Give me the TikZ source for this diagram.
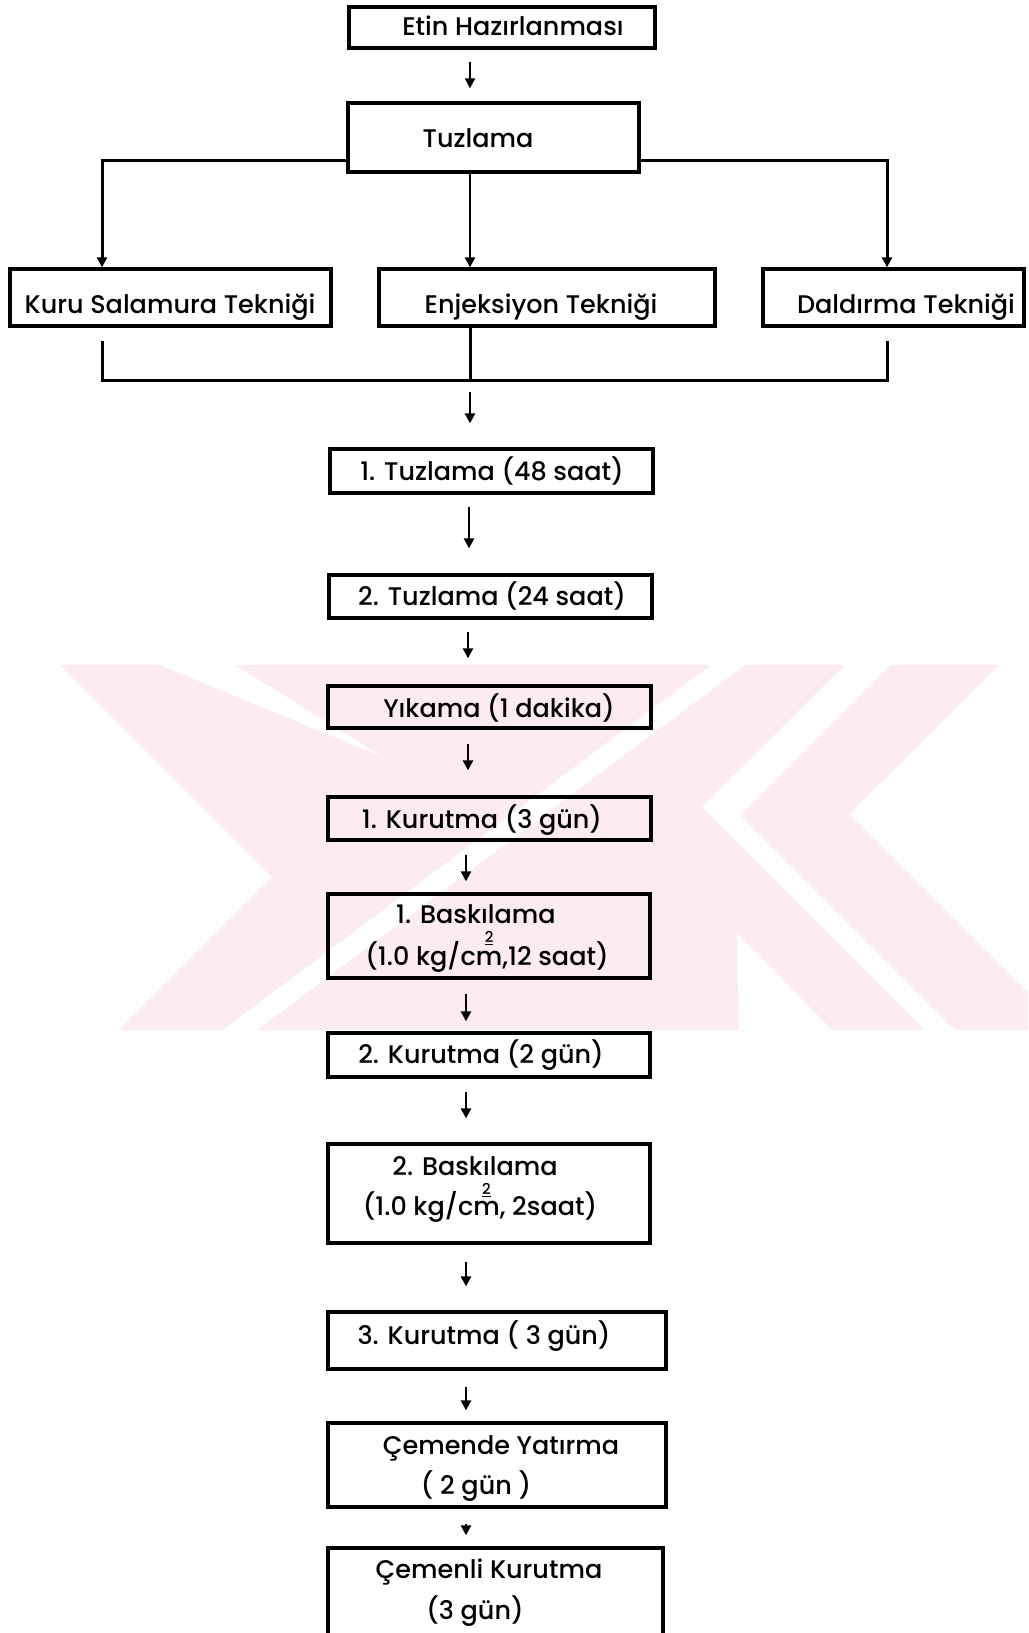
\documentclass[tikz,border=0pt]{standalone}
\usepackage{fontspec}
\setmainfont{Poppins}[UprightFont={* Medium}]
\usepackage{calc}
\usetikzlibrary{arrows.meta}
\definecolor{wmpink}{RGB}{253,236,239}
% "cm" with a small underlined 2 set above the m
\newcommand{\cmsq}[1]{c\makebox[0pt][l]{\makebox[\widthof{m}][c]{\raisebox{#1}{\fontsize{15}{15}\selectfont\underline{2}}}}m}

\begin{document}
\begin{tikzpicture}[x=1pt,y=-1pt,
  box/.style={draw, line width=3.3pt, inner sep=0pt},
  lbl/.style={anchor=base, inner sep=0pt, font=\fontsize{25.5}{30}\selectfont},
  conn/.style={line width=3pt},
  tip/.style={-{Triangle[length=10pt,width=10pt]}},
  arr/.style={line width=2.5pt, tip},
]
\fill[white] (0,0) rectangle (1028,1633);
\useasboundingbox (0,0) rectangle (1028,1633);

% background emblem
\begin{scope}
  \clip (0,665) rectangle (1028,1030);
  \fill[wmpink] (60,665) -- (272,877) -- (119,1030) -- (1028,1030) -- (1028,993)
    -- (849,814) -- (999,665) -- cycle;
  \fill[white] (160,665) -- (235,665) -- (383,757) -- cycle;
  \fill[white] (711,665) -- (745,665) -- (257,1030) -- (223,1030) -- cycle;
  \fill[white] (845,665) -- (891,665) -- (740,815) -- (955,1030) -- (925,1030)
    -- (702,807) -- cycle;
  \fill[white] (737,933) -- (739,1030) -- (832,1030) -- cycle;
\end{scope}

% boxes
\node[box, minimum width=306pt, minimum height=41pt] (etin) at (502,27.5) {};
\node[box, minimum width=291pt, minimum height=69pt] (tuz) at (493.5,137.5) {};
\node[box, minimum width=321pt, minimum height=57pt] (kuru) at (170.5,297.5) {};
\node[box, minimum width=336pt, minimum height=57pt] (enj) at (547,297.5) {};
\node[box, minimum width=261pt, minimum height=57pt] (dal) at (893.5,297.5) {};
\node[box, minimum width=323pt, minimum height=44pt] (t1) at (491.5,471) {};
\node[box, minimum width=323pt, minimum height=43pt] (t2) at (490.5,596.5) {};
\node[box, minimum width=323pt, minimum height=42pt] (yik) at (489.5,707) {};
\node[box, minimum width=323pt, minimum height=43pt] (k1) at (489.5,818.5) {};
\node[box, minimum width=322pt, minimum height=84pt] (b1) at (489,936) {};
\node[box, minimum width=322pt, minimum height=44pt] (k2) at (489,1055) {};
\node[box, minimum width=322pt, minimum height=99pt] (b2) at (489,1193.5) {};
\node[box, minimum width=338pt, minimum height=57pt] (k3) at (497,1340.5) {};
\node[box, minimum width=338pt, minimum height=84pt] (cy) at (497,1465) {};
\node[box, minimum width=335pt, minimum height=92pt] (ck) at (495.5,1594) {};

% texts
\node[lbl] (etin-l) at (513,35) {Etin Hazırlanması};
\node[lbl] (tuz-l) at (478,147) {Tuzlama};
\node[lbl] (kuru-l) at (170,313) {Kuru Salamura Tekniği};
\node[lbl] (enj-l) at (541,313) {Enjeksiyon Tekniği};
\node[lbl] (dal-l) at (906,313) {Daldırma Tekniği};
\node[lbl] (t1-l) at (492,480) {1. Tuzlama (48 saat)};
\node[lbl] (t2-l) at (492,605) {2. Tuzlama (24 saat)};
\node[lbl] (yik-l) at (499,717) {Yıkama (1 dakika)};
\node[lbl] (k1-l) at (482,828) {1. Kurutma (3 gün)};
\node[lbl] (b1-a) at (476,923) {1. Baskılama};
\node[lbl] (b1-b) at (487,965) {(1.0 kg/\cmsq{0.88em},12 saat)};
\node[lbl] (k2-l) at (481,1063) {2. Kurutma (2 gün)};
\node[lbl] (b2-a) at (475,1175) {2. Baskılama};
\node[lbl] (b2-b) at (480,1215) {(1.0 kg/\cmsq{0.8em}, 2saat)};
\node[lbl] (k3-l) at (484,1344) {3. Kurutma ( 3 gün)};
\node[lbl] (cy-a) at (501,1454) {Çemende Yatırma};
\node[lbl] (cy-b) at (476,1494) {( 2 gün )};
\node[lbl] (ck-a) at (489,1578) {Çemenli Kurutma};
\node[lbl] (ck-b) at (475,1619) {(3 gün)};

% guide positions for the connectors
\coordinate (sA) at (470,0);
\coordinate (sB) at (469,0);
\coordinate (sC) at (468,0);
\coordinate (sD) at (466,0);
\coordinate (lx) at (102,0);
\coordinate (rx) at (887,0);
\coordinate (brY) at (0,160);
\coordinate (mgY) at (0,380);

% connectors
\draw[arr, line width=2pt, shorten <=12pt, shorten >=13pt] (etin.south -| sA) -- (tuz.north -| sA);
\draw[conn, tip] (tuz.west |- brY) -| (kuru.north -| lx);
\draw[conn, tip] (tuz.east |- brY) -| (dal.north -| rx);
\draw[arr] (tuz.south -| sA) -- (enj.north -| sA);
\draw[conn, shorten <=13pt, shorten >=13pt] (kuru.south -| lx) -- (lx |- mgY) -- (rx |- mgY) -- (dal.south -| rx);
\draw[conn] (enj.south -| sA) -- (sA |- mgY);
\draw[arr, shorten <=12pt, shorten >=24pt] (sA |- mgY) -- (t1.north -| sA);
\draw[arr, shorten <=12pt, shorten >=25pt] (t1.south -| sB) -- (t2.north -| sB);
\draw[arr, shorten <=12pt, shorten >=26pt] (t2.south -| sC) -- (yik.north -| sC);
\draw[arr, shorten <=14pt, shorten >=25pt] (yik.south -| sC) -- (k1.north -| sC);
\draw[arr, shorten <=13pt, shorten >=11pt] (k1.south -| sD) -- (b1.north -| sD);
\draw[arr, shorten <=14pt, shorten >=10pt] (b1.south -| sD) -- (k2.north -| sD);
\draw[arr, shorten <=13pt, shorten >=24pt] (k2.south -| sD) -- (b2.north -| sD);
\draw[arr, shorten <=17pt, shorten >=24pt] (b2.south -| sD) -- (k3.north -| sD);
\draw[arr, shorten <=16pt, shorten >=11pt] (k3.south -| sD) -- (cy.north -| sD);
\draw[arr, shorten <=15pt, shorten >=11pt] (cy.south -| sD) -- (ck.north -| sD);
\end{tikzpicture}
\end{document}
